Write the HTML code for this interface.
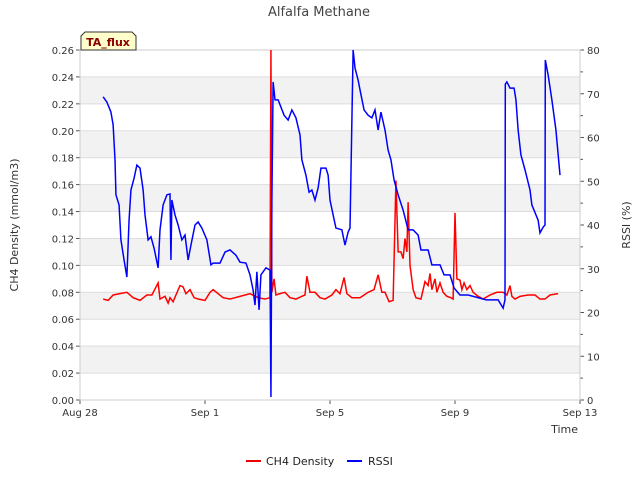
<!DOCTYPE html>
<html><head><meta charset="utf-8"><style>
body{margin:0;background:#fff;font-family:"Liberation Sans","DejaVu Sans",sans-serif}
svg text{font-family:"DejaVu Sans","Liberation Sans",sans-serif}
</style></head><body>
<svg id="chart" width="640" height="480" xmlns="http://www.w3.org/2000/svg">
<g id="bands"></g><g id="axes"></g><g id="series"></g>
<text x="319" y="16" font-size="13" fill="#444" text-anchor="middle">Alfalfa Methane</text>
<text transform="translate(18,225) rotate(-90)" font-size="11" fill="#333" text-anchor="middle">CH4 Density (mmol/m3)</text>
<text transform="translate(630,225) rotate(-90)" font-size="11" fill="#333" text-anchor="middle">RSSI (%)</text>
<text x="578" y="433" font-size="11" fill="#333" text-anchor="end">Time</text>
<g>
<path d="M81,50 L81,36 L85,32 L132,32 L136,36 L136,50 Z" fill="#ffffcc" stroke="#333"/>
<text x="108" y="46" font-size="11" font-weight="bold" fill="#8b0000" text-anchor="middle">TA_flux</text></g>
<g>
<g><line x1="246" y1="461" x2="261" y2="461" stroke="#e00" stroke-width="2"/><text x="266" y="465" font-size="11" fill="#222">CH4 Density</text></g>
<g><line x1="347" y1="461" x2="362" y2="461" stroke="#00f" stroke-width="2"/><text x="368" y="465" font-size="11" fill="#222">RSSI</text></g>
</g>
</svg>
<script>
const xTickLabels=["Aug 28","Sep 1","Sep 5","Sep 9","Sep 13"];
const xTickDays=[0,4,8,12,16];
const yTicks=[0,0.02,0.04,0.06,0.08,0.10,0.12,0.14,0.16,0.18,0.20,0.22,0.24,0.26];
const y2Ticks=[0,10,20,30,40,50,60,70,80];
const rssiDays=[0.74,0.86,0.99,1.06,1.12,1.15,1.25,1.31,1.41,1.50,1.57,1.63,1.73,1.82,1.92,2.02,2.08,2.18,2.27,2.37,2.50,2.56,2.66,2.78,2.88,2.91,2.94,3.04,3.14,3.26,3.36,3.46,3.55,3.68,3.78,3.90,4.06,4.19,4.26,4.48,4.64,4.80,4.99,5.12,5.31,5.44,5.54,5.60,5.66,5.73,5.79,5.95,6.08,6.11,6.14,6.18,6.24,6.34,6.53,6.66,6.78,6.91,7.04,7.10,7.23,7.33,7.42,7.52,7.62,7.71,7.87,7.94,8.00,8.10,8.19,8.38,8.48,8.58,8.64,8.74,8.80,8.90,8.96,9.09,9.22,9.34,9.44,9.54,9.63,9.76,9.86,9.95,10.05,10.18,10.34,10.50,10.66,10.82,10.91,11.14,11.26,11.52,11.65,11.84,11.97,12.16,12.42,13.0,13.38,13.54,13.60,13.61,13.66,13.76,13.89,13.95,14.02,14.11,14.24,14.40,14.46,14.66,14.72,14.82,14.88,14.89,14.98,15.10,15.23,15.36];
const rssiVals=[69.3,68.1,65.8,62.9,54.9,46.9,44.6,36.6,32.0,28.1,41.1,48.0,50.7,53.7,53.0,48.0,42.3,36.6,37.3,34.7,30.2,38.9,44.6,46.9,47.1,32.0,45.7,42.3,40.0,36.6,37.7,32.0,35.4,40.0,40.7,39.3,36.6,30.9,31.3,31.3,33.8,34.3,33.1,31.5,31.3,28.6,25.1,21.7,29.3,20.6,28.6,30.2,29.7,0.7,45.7,72.7,68.6,68.6,65.1,64.0,66.3,64.5,60.6,54.9,51.4,47.5,48.0,45.7,48.5,53.0,53.0,51.4,45.7,42.3,39.3,38.9,35.4,38.4,39.3,80,75.9,73.1,70.9,66.3,65.1,64.5,66.3,61.7,65.8,61.7,57.1,54.9,50.3,46.9,43.4,38.9,38.9,37.7,34.3,34.3,30.9,30.9,28.6,28.6,25.6,24.0,24.0,22.9,22.9,21.0,22.9,72.2,72.7,71.3,71.3,68.6,61.7,56.0,52.6,48.0,44.6,41.1,38.2,39.5,40.0,77.7,74.3,68.6,61.7,51.4,48.0];
const ch4Days=[0.74,0.90,1.06,1.28,1.50,1.70,1.92,2.14,2.30,2.50,2.56,2.72,2.82,2.88,2.98,3.07,3.20,3.30,3.39,3.52,3.65,3.78,4.00,4.16,4.26,4.42,4.58,4.80,5.12,5.44,5.70,5.92,6.08,6.11,6.14,6.21,6.27,6.40,6.56,6.72,6.91,7.10,7.20,7.26,7.36,7.52,7.68,7.84,8.06,8.19,8.32,8.45,8.54,8.70,8.96,9.22,9.41,9.54,9.66,9.76,9.89,10.02,10.11,10.18,10.27,10.34,10.40,10.46,10.50,10.56,10.66,10.75,10.91,11.04,11.14,11.20,11.26,11.36,11.42,11.52,11.62,11.74,11.87,11.94,12.00,12.06,12.16,12.22,12.29,12.38,12.48,12.58,12.74,12.90,13.12,13.34,13.54,13.66,13.76,13.82,13.92,14.08,14.34,14.56,14.72,14.88,15.04,15.30];
const ch4Vals=[0.075,0.074,0.078,0.079,0.080,0.076,0.074,0.078,0.078,0.087,0.075,0.077,0.072,0.076,0.073,0.078,0.085,0.084,0.079,0.082,0.076,0.075,0.074,0.080,0.082,0.079,0.076,0.075,0.077,0.079,0.076,0.075,0.076,0.26,0.08,0.09,0.078,0.079,0.080,0.076,0.075,0.077,0.078,0.092,0.080,0.080,0.076,0.075,0.078,0.082,0.079,0.091,0.079,0.076,0.076,0.080,0.082,0.093,0.080,0.080,0.073,0.074,0.163,0.11,0.11,0.105,0.12,0.11,0.147,0.10,0.082,0.076,0.075,0.088,0.085,0.094,0.082,0.090,0.080,0.087,0.080,0.077,0.076,0.075,0.139,0.09,0.089,0.082,0.087,0.082,0.085,0.080,0.077,0.075,0.078,0.080,0.080,0.078,0.085,0.077,0.075,0.077,0.078,0.078,0.075,0.075,0.078,0.079];
const X0=80,X1=580,YT=50,YB=400;
const xs=d=>X0+(d/16)*(X1-X0);
const ys=v=>YB-(v/0.26)*(YB-YT);
const y2s=v=>YB-(v/80)*(YB-YT);
const NS="http://www.w3.org/2000/svg";
function mk(tag,attrs,parent){const e=document.createElementNS(NS,tag);for(const k in attrs)e.setAttribute(k,attrs[k]);parent.appendChild(e);return e;}
const bands=document.getElementById('bands'),axes=document.getElementById('axes'),series=document.getElementById('series');
for(let i=0;i<yTicks.length-1;i++){
  if(i%2===1){const r=mk('rect',{x:X0,y:ys(yTicks[i+1]),width:X1-X0,height:ys(yTicks[i])-ys(yTicks[i+1]),fill:'#f2f2f2'},bands);
  
  }
}
yTicks.forEach((t,i)=>{
  const g=mk('line',{x1:X0,x2:X1,y1:ys(t),y2:ys(t),stroke:'#ddd','stroke-width':1},bands);
  
  
  mk('line',{x1:X0-4,x2:X0,y1:ys(t),y2:ys(t),stroke:'#555'},axes);
  const tx=mk('text',{x:X0-6,y:ys(t)+4,'font-size':10,fill:'#333','text-anchor':'end'},axes);
  tx.textContent=t.toFixed(2);
  
  
});
y2Ticks.forEach(t=>{
  mk('line',{x1:X1,x2:X1+4,y1:y2s(t),y2:y2s(t),stroke:'#555'},axes);
  if(t<80) mk('line',{x1:X1,x2:X1+3,y1:y2s(t+5),y2:y2s(t+5),stroke:'#555'},axes);
  const tx=mk('text',{x:X1+7,y:y2s(t)+4,'font-size':10,fill:'#333'},axes);
  tx.textContent=t;
  
  
});
xTickDays.forEach((d,i)=>{
  mk('line',{x1:xs(d),x2:xs(d),y1:YB,y2:YB+4,stroke:'#555'},axes);
  const tx=mk('text',{x:xs(d),y:YB+16,'font-size':10,fill:'#333','text-anchor':'middle'},axes);
  tx.textContent=xTickLabels[i];
  
  
});
mk('rect',{x:X0,y:YT,width:X1-X0,height:YB-YT,fill:'none',stroke:'#ccc'},axes);
const ch4=mk('polyline',{points:ch4Days.map((d,i)=>xs(d)+','+ys(ch4Vals[i])).join(' '),fill:'none',stroke:'#f00','stroke-width':1.5},series);


const rs=mk('polyline',{points:rssiDays.map((d,i)=>xs(d)+','+y2s(rssiVals[i])).join(' '),fill:'none',stroke:'#00f','stroke-width':1.5},series);


</script>
</body></html>
